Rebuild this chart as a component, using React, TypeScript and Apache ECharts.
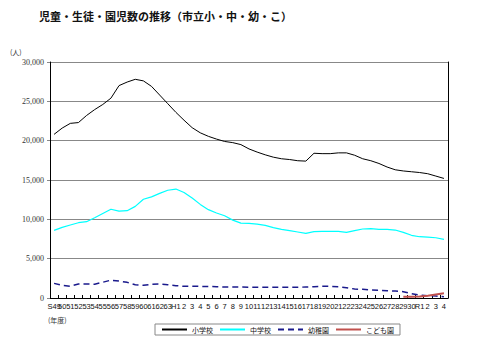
import React, { useEffect, useRef } from "react";
import * as echarts from "echarts";

const years: string[] = [
  "S49","S50","S51","S52","S53","S54","S55","S56","S57","S58","S59","S60","S61","S62","S63",
  "H1","H2","H3","H4","H5","H6","H7","H8","H9","H10","H11","H12","H13","H14","H15",
  "H16","H17","H18","H19","H20","H21","H22","H23","H24","H25","H26","H27","H28","H29","H30",
  "R1","R2","R3","R4",
];
const tickLabels: string[] = [
  "S49","50","51","52","53","54","55","56","57","58","59","60","61","62","63",
  "H1","2","3","4","5","6","7","8","9","10","11","12","13","14","15",
  "16","17","18","19","20","21","22","23","24","25","26","27","28","29","30",
  "R1","2","3","4",
];
const elementary: number[] = [
  20800, 21600, 22200, 22300, 23200, 23950, 24600, 25400, 27000, 27450,
  27800, 27600, 26900, 25800, 24700, 23600, 22600, 21650, 21000, 20550,
  20200, 19900, 19750, 19500, 18950, 18550, 18200, 17900, 17700, 17600,
  17450, 17400, 18400, 18350, 18350, 18450, 18450, 18150, 17700, 17450,
  17100, 16650, 16300, 16150, 16050, 15950, 15800, 15500, 15200,
];
const junior: number[] = [
  8600, 8980, 9280, 9570, 9700, 10200, 10750, 11280, 11050, 11100,
  11650, 12550, 12850, 13300, 13700, 13850, 13420, 12700, 11900, 11230,
  10800, 10450, 9900, 9520, 9480, 9400, 9230, 8940, 8730, 8560,
  8390, 8220, 8430, 8470, 8470, 8470, 8350, 8560, 8770, 8810,
  8730, 8730, 8640, 8350, 7970, 7790, 7750, 7660, 7460,
];
const kindergarten: number[] = [
  1860, 1610, 1500, 1780, 1780, 1760, 2000, 2270, 2150, 1990,
  1690, 1610, 1740, 1780, 1690, 1570, 1480, 1500, 1480, 1460,
  1440, 1400, 1400, 1400, 1380, 1370, 1360, 1360, 1360, 1360,
  1360, 1400, 1440, 1480, 1480, 1440, 1310, 1140, 1100, 1020,
  980, 930, 890, 800, 550, 380, 300, 250, 170,
];
const childCenter: (number | null)[] = [
  null, null, null, null, null, null, null, null, null, null,
  null, null, null, null, null, null, null, null, null, null,
  null, null, null, null, null, null, null, null, null, null,
  null, null, null, null, null, null, null, null, null, null,
  null, null, null, 150, 160, 190, 300, 450, 600,
];

const JP = "'Noto Sans CJK JP', sans-serif";

export default function App() {
  const ref = useRef<HTMLDivElement>(null);
  useEffect(() => {
    if (!ref.current) return;
    const chart = echarts.init(ref.current, null, { renderer: "svg" });
    chart.setOption({
      animation: false,
      backgroundColor: "#fff",
      title: {
        text: "児童・生徒・園児数の推移（市立小・中・幼・こ）",
        left: 34,
        top: 5,
        textStyle: { fontSize: 11, fontWeight: "bold", fontFamily: JP, color: "#111" },
      },
      graphic: [
        { type: "text", left: 10, top: 48, style: { text: "(人)", fontSize: 7, fontFamily: JP, fill: "#333" } },
        { type: "text", left: 48, top: 316, style: { text: "(年度)", fontSize: 7, fontFamily: JP, fill: "#333" } },
      ],
      legend: {
        left: 155,
        top: 324,
        padding: [2, 6],
        itemGap: 6,
        itemWidth: 25,
        itemHeight: 7,
        borderColor: "#888",
        borderWidth: 1,
        itemStyle: { opacity: 0, borderWidth: 0 },
        textStyle: { fontSize: 7, fontFamily: JP, color: "#111" },
        data: ["小学校", "中学校", "幼稚園", "こども園"],
      },
      grid: { left: 50, right: 32, top: 62, bottom: 60 },
      xAxis: {
        type: "category",
        data: years,
        boundaryGap: true,
        axisLine: { lineStyle: { color: "#000", width: 1 } },
        axisTick: { show: true, inside: true, length: 3, interval: 0, lineStyle: { color: "#000" } },
        axisLabel: {
          interval: 0,
          fontSize: 7.5,
          margin: 4,
          color: "#111",
          fontFamily: "'Liberation Sans', sans-serif",
          formatter: (_v: string, i: number) => tickLabels[i],
        },
        splitLine: { show: false },
      },
      yAxis: [
        {
          type: "value",
          min: 0,
          max: 30000,
          interval: 5000,
          axisLine: { show: true, lineStyle: { color: "#000", width: 1 } },
          axisTick: { show: true, length: 3, lineStyle: { color: "#888" } },
          axisLabel: {
            fontSize: 8,
            margin: 6,
            color: "#333",
            fontFamily: "'Liberation Serif', serif",
            formatter: (v: number) => v.toLocaleString("en-US"),
          },
          splitLine: { show: true, lineStyle: { color: "#888", width: 1 } },
        },
        {
          type: "value",
          position: "right",
          min: 0,
          max: 30000,
          interval: 5000,
          axisLine: { show: true, lineStyle: { color: "#000", width: 1 } },
          axisTick: { show: false },
          axisLabel: { show: false },
          splitLine: { show: false },
        },
      ],
      series: [
        {
          name: "小学校",
          type: "line",
          data: elementary,
          symbol: "none",
          lineStyle: { color: "#000", width: 1 },
          itemStyle: { color: "#000" },
        },
        {
          name: "中学校",
          type: "line",
          data: junior,
          symbol: "none",
          lineStyle: { color: "#00FFFF", width: 1.2 },
          itemStyle: { color: "#00FFFF" },
        },
        {
          name: "幼稚園",
          type: "line",
          data: kindergarten,
          symbol: "none",
          lineStyle: { color: "#1A1A8C", width: 1.5, type: [6, 4] },
          itemStyle: { color: "#1A1A8C" },
        },
        {
          name: "こども園",
          type: "line",
          data: childCenter,
          symbol: "none",
          lineStyle: { color: "#C0504D", width: 2 },
          itemStyle: { color: "#C0504D" },
        },
      ],
    });
    return () => chart.dispose();
  }, []);
  return (
    <div
      ref={ref}
      style={{ position: "fixed", left: 0, top: 0, width: 480, height: 358 }}
    />
  );
}
